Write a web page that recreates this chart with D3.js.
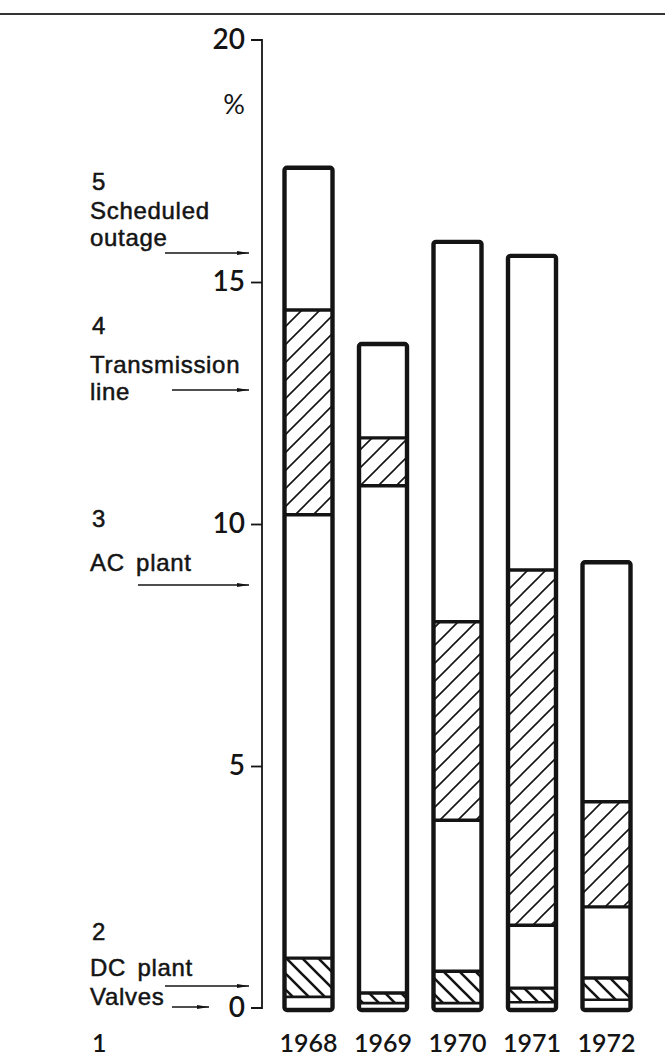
<!DOCTYPE html>
<html lang="en">
<head>
  <meta charset="UTF-8">
  <title>Outage by cause, 1968-1972</title>
  <style>
    body { margin: 0; background: #fff; }
    svg { display: block; font-family: Lato, "Noto Sans", sans-serif; font-weight: 600; }
  </style>
  <script src="https://d3js.org/d3.v7.min.js"></script>
</head>
<body>
  <div id="chart"></div>

  <script>
    // years and the five outage causes, stacked bottom to top (values in %)
    const years = ["1968", "1969", "1970", "1971", "1972"];
    const causes = ["valves", "dc", "ac", "line", "sched"];
    const valves = [0.23, 0.10, 0.10, 0.12, 0.17];
    const dcPlant = [0.80, 0.21, 0.66, 0.29, 0.45];
    const acPlant = [9.16, 10.48, 3.12, 1.30, 1.47];
    const transLine = [4.23, 0.99, 4.10, 7.34, 2.17];
    const scheduled = [2.94, 1.94, 7.85, 6.49, 4.95];
    const yTicks = [0, 5, 10, 15, 20];

    const rows = years.map((yr, i) => ({
      year: yr,
      valves: valves[i], dc: dcPlant[i], ac: acPlant[i], line: transLine[i], sched: scheduled[i]
    }));

    const width = 665, height = 1063;
    const ink = "#141414";

    const y = d3.scaleLinear().domain([0, 20]).range([1008, 40]);
    const x = d3.scalePoint().domain(years).range([308.5, 606.5]);
    const barW = 48;

    const svg = d3.create("svg")
        .attr("width", width)
        .attr("height", height)
        .attr("viewBox", [0, 0, width, height]);

    // hatch patterns
    const defs = svg.append("defs");
    defs.append("pattern")
        .attr("id", "fwd")
        .attr("patternUnits", "userSpaceOnUse")
        .attr("width", 18).attr("height", 18)
      .append("path")
        .attr("d", "M-4,4 L4,-4 M0,18 L18,0 M14,22 L22,14")
        .attr("stroke", ink).attr("stroke-width", 1.6);
    defs.append("pattern")
        .attr("id", "back")
        .attr("patternUnits", "userSpaceOnUse")
        .attr("width", 16).attr("height", 16)
      .append("path")
        .attr("d", "M-4,12 L4,20 M0,0 L16,16 M12,-4 L20,4")
        .attr("stroke", ink).attr("stroke-width", 2.6);

    defs.append("marker")
        .attr("id", "arrow")
        .attr("viewBox", "0 0 12 6")
        .attr("refX", 12).attr("refY", 3)
        .attr("markerWidth", 12).attr("markerHeight", 6)
        .attr("markerUnits", "userSpaceOnUse")
        .attr("orient", "auto")
      .append("path")
        .attr("d", "M0,1 L12,3 L0,5 Z")
        .attr("fill", ink);

    // top rule
    svg.append("line")
        .attr("x1", 0).attr("x2", width)
        .attr("y1", 14).attr("y2", 14)
        .attr("stroke", "#333").attr("stroke-width", 1.8);

    // y axis
    const axis = svg.append("g")
        .attr("transform", "translate(262,0)")
        .call(d3.axisLeft(y).tickValues(yTicks).tickSize(11).tickPadding(6));
    axis.select(".domain").attr("d", `M-11,${y(20)}H0V${y(0)}H-11`)
        .attr("stroke", ink).attr("stroke-width", 1.8).attr("fill", "none");
    axis.selectAll(".tick line").attr("stroke", ink).attr("stroke-width", 1.8);
    axis.selectAll(".tick text")
        .attr("fill", ink)
        .style("font-family", "Lato, sans-serif")
        .style("font-weight", 600)
        .style("font-size", "28px");
    axis.selectAll(".tick").filter(d => d === 20 || d === 0).select("line").remove();

    svg.append("text")
        .attr("x", 245).attr("y", 114)
        .attr("text-anchor", "end")
        .attr("fill", ink)
        .style("font-size", "27px")
        .style("font-weight", 400)
        .text("%");

    // stacked bars
    const series = d3.stack().keys(causes)(rows);
    const fills = { valves: "#fff", dc: "url(#back)", ac: "#fff", line: "url(#fwd)", sched: "#fff" };

    const bars = svg.append("g");
    series.forEach(s => {
      bars.selectAll(null)
        .data(s)
        .join("rect")
          .attr("x", d => x(d.data.year) - barW / 2)
          .attr("width", barW)
          .attr("y", d => y(d[1]))
          .attr("height", d => y(d[0]) - y(d[1]))
          .attr("fill", fills[s.key]);
    });

    // dividers between segments
    series.slice(0, -1).forEach(s => {
      bars.selectAll(null)
        .data(s)
        .join("line")
          .attr("x1", d => x(d.data.year) - barW / 2)
          .attr("x2", d => x(d.data.year) + barW / 2)
          .attr("y1", d => y(d[1]))
          .attr("y2", d => y(d[1]))
          .attr("stroke", ink)
          .attr("stroke-width", s.key === "valves" ? 2.6 : 3.4);
    });

    // outer outline
    const topSeries = series[series.length - 1];
    bars.selectAll(null)
      .data(topSeries)
      .join("rect")
        .attr("x", d => x(d.data.year) - barW / 2)
        .attr("width", barW)
        .attr("y", d => y(d[1]))
        .attr("height", d => y(0) - y(d[1]) + 2)
        .attr("rx", 2.5)
        .attr("fill", "none")
        .attr("stroke", ink)
        .attr("stroke-width", 4.4);

    // year labels
    svg.append("g")
      .selectAll("text")
      .data(years)
      .join("text")
        .attr("x", d => x(d))
        .attr("y", 1052)
        .attr("text-anchor", "middle")
        .attr("fill", ink)
        .style("font-size", "25px")
        .text(d => d);

    // left-hand cause labels with arrows
    const notes = [
      { num: "5", lines: ["Scheduled", "outage"], y0: 190, ys: [219, 246], arrow: [165, 253] },
      { num: "4", lines: ["Transmission", "line"], y0: 334, ys: [373, 400], arrow: [172, 390] },
      { num: "3", lines: ["AC plant"], y0: 527, ys: [571], arrow: [138, 585] },
      { num: "2", lines: ["DC plant"], y0: 940, ys: [976], arrow: [165, 986] }
    ];
    const lab = svg.append("g")
        .attr("fill", ink)
        .attr("stroke", ink)
        .attr("stroke-width", 0.5)
        .style("font-family", "'Liberation Sans', Arial, sans-serif")
        .style("font-weight", 400)
        .style("letter-spacing", "0.7px")
        .style("font-size", "24px");
    notes.forEach(n => {
      lab.append("text").attr("x", 92).attr("y", n.y0).text(n.num);
      n.lines.forEach((t, i) => {
        lab.append("text")
          .attr("x", 90)
          .attr("y", n.ys[i])
          .attr("word-spacing", 4)
          .text(t);
      });
      svg.append("line")
        .attr("x1", n.arrow[0]).attr("x2", 249)
        .attr("y1", n.arrow[1]).attr("y2", n.arrow[1])
        .attr("stroke", ink).attr("stroke-width", 1.4)
        .attr("marker-end", "url(#arrow)");
    });
    lab.append("text").attr("x", 90).attr("y", 1005).text("Valves");
    svg.append("line")
      .attr("x1", 172).attr("x2", 209)
      .attr("y1", 1007).attr("y2", 1007)
      .attr("stroke", ink).attr("stroke-width", 1.4)
      .attr("marker-end", "url(#arrow)");
    lab.append("text").attr("x", 92).attr("y", 1052)
      .attr("stroke", "none")
      .style("font-family", "Lato, sans-serif").style("font-weight", 600).style("font-size", "25px")
      .text("1");

    document.getElementById("chart").appendChild(svg.node());
  </script>
</body>
</html>
